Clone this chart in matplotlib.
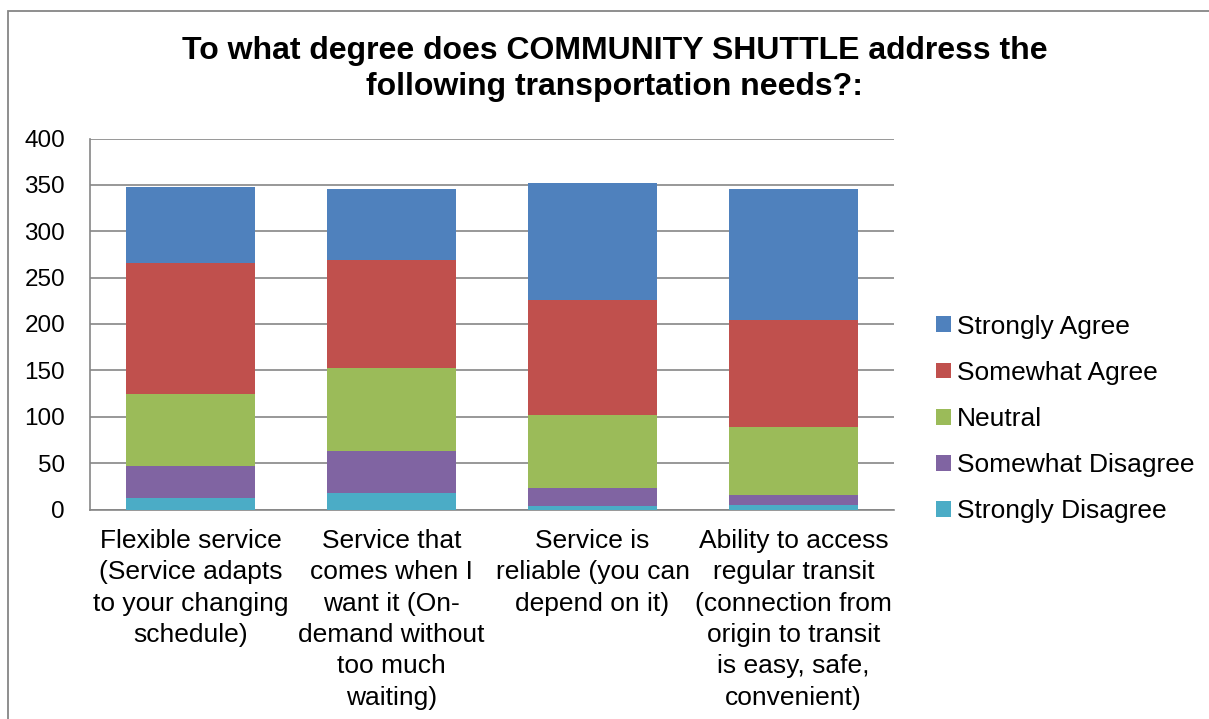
import matplotlib.pyplot as plt
import matplotlib.patches as patches
import numpy as np

plt.rcParams['font.family'] = ['Liberation Sans', 'DejaVu Sans']

# categories and responses
categories = ['Flexible service\n(Service adapts\nto your changing\nschedule)',
              'Service that\ncomes when I\nwant it (On-\ndemand without\ntoo much\nwaiting)',
              'Service is\nreliable (you can\ndepend on it)',
              'Ability to access\nregular transit\n(connection from\norigin to transit\nis easy, safe,\nconvenient)']
strongly_disagree = [12, 18, 4, 5]
somewhat_disagree = [35, 45, 19, 11]
neutral = [78, 90, 79, 73]
somewhat_agree = [141, 116, 124, 115]
strongly_agree = [82, 77, 126, 142]

series = [('Strongly Disagree', strongly_disagree, '#4bacc6'),
          ('Somewhat Disagree', somewhat_disagree, '#8064a2'),
          ('Neutral', neutral, '#9bbb59'),
          ('Somewhat Agree', somewhat_agree, '#c0504d'),
          ('Strongly Agree', strongly_agree, '#4f81bd')]

fig = plt.figure(figsize=(12.09, 7.19), dpi=100)
W, H = 1209, 719
ax = fig.add_axes([90 / W, 1 - 509.5 / H, (894 - 90) / W, (509.5 - 138.5) / H])

x = np.arange(len(categories))
bottom = np.zeros(len(categories))
handles = []
for name, vals, col in series:
    b = ax.bar(x, vals, bottom=bottom, width=0.64, color=col, label=name, zorder=3)
    handles.append(b)
    bottom += np.array(vals)

ax.set_xlim(-0.5, 3.5)
ax.set_ylim(0, 400)
ax.set_yticks(range(0, 401, 50))
ax.set_xticks(x)
ax.set_xticklabels(categories, fontsize=19, linespacing=1.385, va='top')
ax.tick_params(axis='y', labelsize=17.5, length=0, pad=18)
ax.tick_params(axis='x', length=0, pad=14)
ax.yaxis.grid(True, color='#868686', linewidth=1.2, zorder=0)
for s in ['top', 'right']:
    ax.spines[s].set_visible(False)
for s in ['left', 'bottom']:
    ax.spines[s].set_color('#868686')
    ax.spines[s].set_linewidth(1.2)

# legend, top entry is Strongly Agree
leg = fig.legend(handles[::-1], [s[0] for s in series[::-1]],
                 loc='center left', bbox_to_anchor=(931 / W, 1 - 419 / H),
                 frameon=False, fontsize=19, handlelength=0.55, handleheight=0.55,
                 handletextpad=0.22, labelspacing=0.84, borderaxespad=0, borderpad=0.2)

fig.text(615 / W, 1 - 69 / H,
         'To what degree does COMMUNITY SHUTTLE address the\nfollowing transportation needs?:',
         ha='center', va='center', fontsize=23, fontweight='bold', linespacing=1.25)

# outer chart border
border = patches.Rectangle((8 / W, -0.1), 1.2, 1 - 11 / H + 0.1, transform=fig.transFigure,
                           fill=False, edgecolor='#868686', linewidth=1.3, clip_on=False)
fig.patches.append(border)

fig.savefig('out.png', dpi=100)
